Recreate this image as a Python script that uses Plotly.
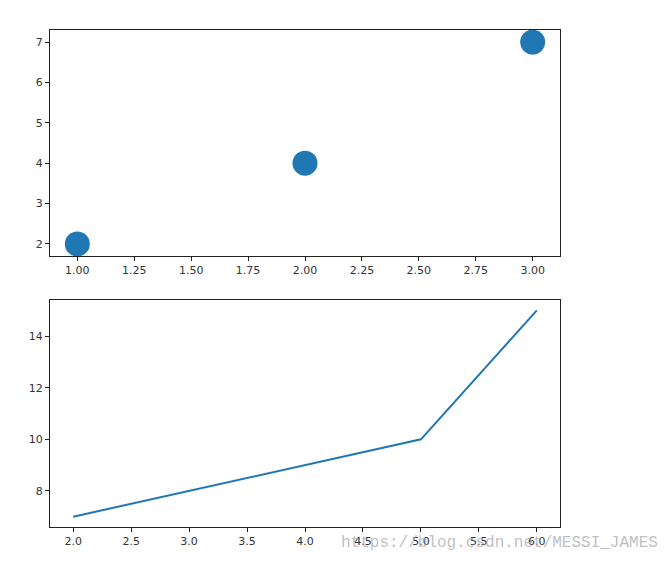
import plotly.graph_objects as go
from plotly.subplots import make_subplots

scatter_x = [1, 2, 3]
scatter_y = [2, 4, 7]
line_x = [2, 5, 6]
line_y = [7, 10, 15]
top_xticks = [1.00, 1.25, 1.50, 1.75, 2.00, 2.25, 2.50, 2.75, 3.00]
top_yticks = [2, 3, 4, 5, 6, 7]
bot_xticks = [2.0, 2.5, 3.0, 3.5, 4.0, 4.5, 5.0, 5.5, 6.0]
bot_yticks = [8, 10, 12, 14]
watermark = "https://blog.csdn.net/MESSI_JAMES"

# page body has an 8px margin; shift everything accordingly
OFF = 8
W, H = 670 - OFF, 563 - OFF
ml, mt = 50 - OFF, 30 - OFF
mr = W - (560 - OFF)
mb = H - (527 - OFF)
ph = H - mt - mb

fig = make_subplots(rows=2, cols=1)
fig.add_trace(go.Scatter(x=scatter_x, y=scatter_y, mode="markers",
                         marker=dict(size=25, color="#1f77b4"), showlegend=False), row=1, col=1)
fig.add_trace(go.Scatter(x=line_x, y=line_y, mode="lines",
                         line=dict(width=2, color="#1f77b4"), showlegend=False), row=2, col=1)

axis_common = dict(showline=True, mirror=True, linecolor="#222", linewidth=1,
                   ticks="outside", ticklen=4, tickcolor="#222", showgrid=False,
                   zeroline=False, tickfont=dict(family="DejaVu Sans", size=11, color="#333"))

fig.update_xaxes(range=[0.88, 3.12], tickvals=top_xticks,
                 ticktext=[f"{v:.2f}" for v in top_xticks], **axis_common, row=1, col=1)
fig.update_yaxes(range=[1.7, 7.3], tickvals=top_yticks, **axis_common, row=1, col=1)
fig.update_xaxes(range=[1.8, 6.2], tickvals=bot_xticks,
                 ticktext=[f"{v:.1f}" for v in bot_xticks], **axis_common, row=2, col=1)
fig.update_yaxes(range=[6.6, 15.4], tickvals=bot_yticks, **axis_common, row=2, col=1)

fig.update_layout(
    width=W, height=H,
    margin=dict(l=ml, r=mr, t=mt, b=mb),
    plot_bgcolor="white", paper_bgcolor="white",
    xaxis=dict(domain=[0, 1], anchor="y"),
    yaxis=dict(domain=[(527 - 256) / ph, 1]),
    xaxis2=dict(domain=[0, 1], anchor="y2"),
    yaxis2=dict(domain=[0, (527 - 300) / ph]),
)

fig.add_annotation(text=watermark, xref="paper", yref="paper",
                   x=(660 - 50) / (560 - 50), y=-(543 - 527) / ph,
                   xanchor="right", yanchor="middle",
                   showarrow=False,
                   font=dict(family="Liberation Mono", size=16, color="rgba(170,170,170,0.75)"))

fig.write_html("out.html")
